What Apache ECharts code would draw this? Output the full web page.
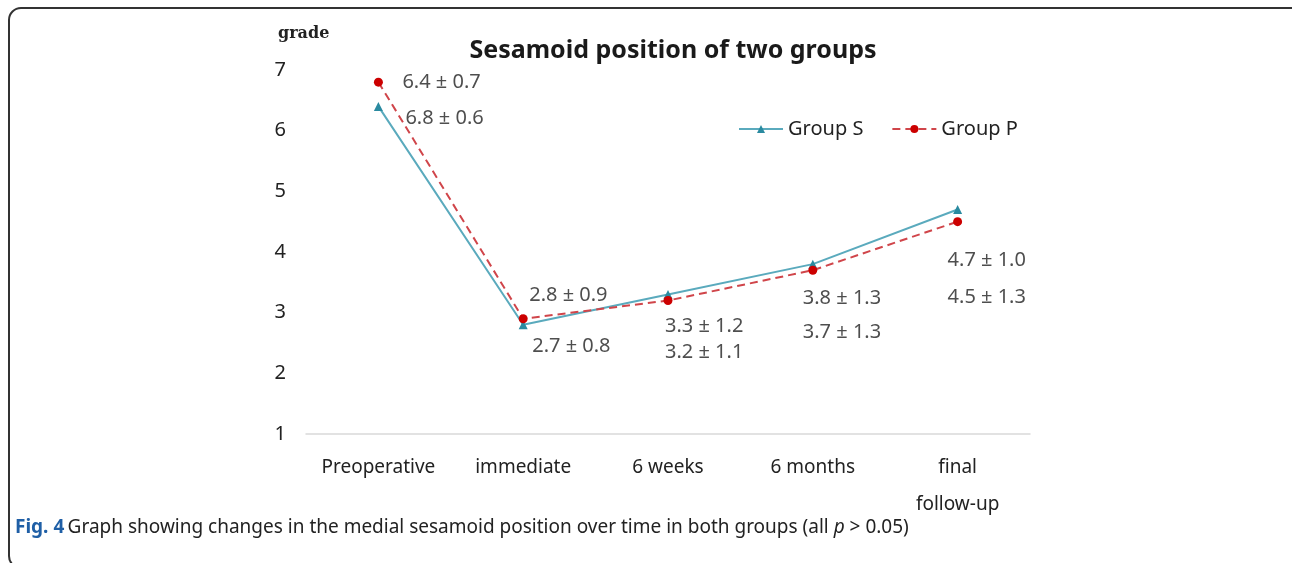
<!DOCTYPE html>
<html>
<head>
<meta charset="utf-8">
<script src="https://cdn.jsdelivr.net/npm/echarts@6/dist/echarts.min.js"></script>
<style>
html,body{margin:0;padding:0;background:#fff;}
#main{width:1292px;height:563px;}
</style>
</head>
<body>
<div id="main"></div>
<script>
var categories = ['Preoperative', 'immediate', '6 weeks', '6 months', 'final\nfollow-up'];
var groupS = [6.4, 2.8, 3.3, 3.8, 4.7];
var groupP = [6.8, 2.9, 3.2, 3.7, 4.5];
var upperLabels = ['6.4 ± 0.7', '2.8 ± 0.9', '3.3 ± 1.2', '3.8 ± 1.3', '4.7 ± 1.0'];
var lowerLabels = ['6.8 ± 0.6', '2.7 ± 0.8', '3.2 ± 1.1', '3.7 ± 1.3', '4.5 ± 1.3'];
var yTicks = [1, 2, 3, 4, 5, 6, 7];

// label placement (layout only): [x pixel offset from category centre, y in axis units]
var upperPlace = [[24, 6.79], [6, 3.28], [-3, 2.78], [-10, 3.23], [-10, 3.87]];
var lowerPlace = [[27, 6.21], [9, 2.44], [-3, 2.35], [-10, 2.67], [-10, 3.26]];

var FONT = 'Noto Sans';
var TXT = '#222222';

function annot(texts, place) {
  return texts.map(function (t, i) {
    return {
      value: [i, place[i][1]],
      label: { formatter: t, offset: [place[i][0], 0] }
    };
  });
}

var chart = echarts.init(document.getElementById('main'));
chart.setOption({
  animation: false,
  backgroundColor: '#ffffff',
  title: {
    text: 'Sesamoid position of two groups',
    left: 668, top: 33, textAlign: 'center',
    textStyle: { fontFamily: FONT, fontWeight: 'bold', fontSize: 25, color: '#1a1a1a' }
  },
  legend: {
    left: 733, top: 114,
    itemWidth: 44, itemHeight: 10, itemGap: 28,
    textStyle: { fontFamily: FONT, fontSize: 20, color: TXT },
    data: ['Group S', 'Group P']
  },
  grid: { left: 306, right: 262, top: 70, bottom: 129 },
  xAxis: {
    type: 'category',
    data: categories,
    boundaryGap: true,
    axisLine: { lineStyle: { color: '#d9d9d9', width: 1.5 } },
    axisTick: { show: false },
    axisLabel: { fontFamily: FONT, fontSize: 19, color: TXT, margin: 15, lineHeight: 37, interval: 0 }
  },
  yAxis: {
    type: 'value',
    min: 1, max: 7, interval: 1,
    axisLine: { show: false },
    axisTick: { show: false },
    splitLine: { show: false },
    axisLabel: {
      fontFamily: FONT, fontSize: 20, color: TXT, margin: 20, align: 'right',
      formatter: function (v) { return yTicks.indexOf(v) >= 0 ? String(v) : ''; }
    }
  },
  graphic: [
    {
      type: 'rect', silent: true, z: -10,
      shape: { x: 9, y: 8, width: 1300, height: 560, r: 12 },
      style: { fill: 'none', stroke: '#333333', lineWidth: 2 }
    },
    {
      type: 'text', left: 278, top: 26,
      style: { text: 'grade', fontFamily: 'DejaVu Serif', fontWeight: 'bold', fontSize: 16, fill: '#222' }
    },
    {
      type: 'text', left: 15, top: 518,
      style: {
        text: '{b|Fig. 4} {n|Graph showing changes in the medial sesamoid position over time in both groups (all }{i|p}{n| > 0.05)}',
        rich: {
          b: { fontFamily: FONT, fontWeight: 'bold', fontSize: 19, fill: '#1f5fa6' },
          n: { fontFamily: FONT, fontSize: 19, fill: '#222' },
          i: { fontFamily: FONT, fontStyle: 'italic', fontSize: 19, fill: '#222' }
        }
      }
    }
  ],
  series: [
    {
      name: 'Group S', type: 'line', data: groupS,
      symbol: 'triangle', symbolSize: 9,
      lineStyle: { color: '#5aaabd', width: 2 },
      itemStyle: { color: '#2a8aa0' }, z: 3
    },
    {
      name: 'Group P', type: 'line', data: groupP,
      symbol: 'circle', symbolSize: 9,
      lineStyle: { color: '#d0454a', width: 2, type: [8, 5] },
      itemStyle: { color: '#cc0000' }, z: 4
    },
    {
      name: 'upper', type: 'scatter', symbolSize: 0, silent: true,
      data: annot(upperLabels, upperPlace),
      label: { show: true, position: 'inside', align: 'left', verticalAlign: 'middle',
               fontFamily: FONT, fontSize: 20, color: TXT }
    },
    {
      name: 'lower', type: 'scatter', symbolSize: 0, silent: true,
      data: annot(lowerLabels, lowerPlace),
      label: { show: true, position: 'inside', align: 'left', verticalAlign: 'middle',
               fontFamily: FONT, fontSize: 20, color: TXT }
    }
  ]
});
</script>
</body>
</html>
